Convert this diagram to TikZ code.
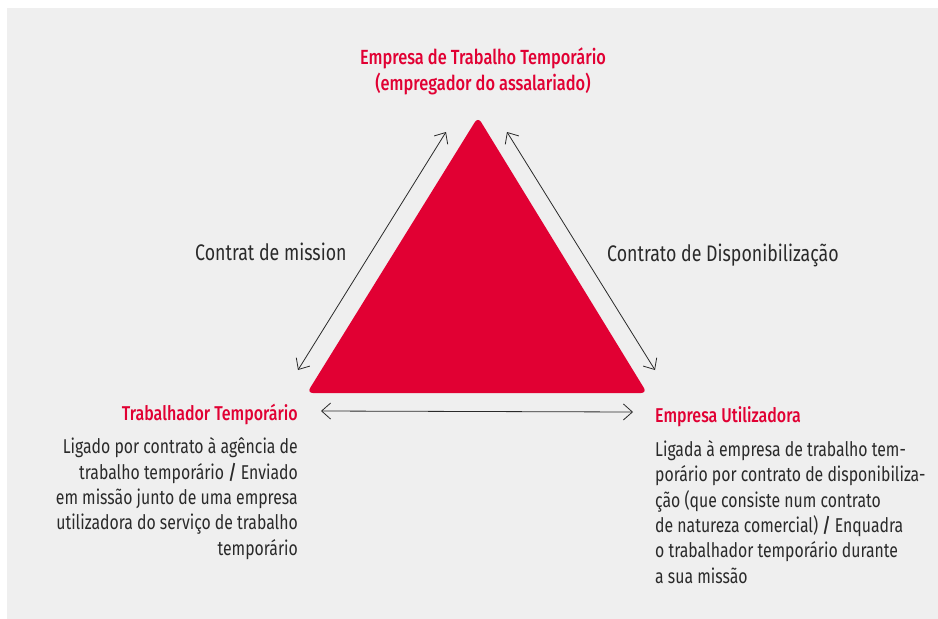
\documentclass[tikz,border=0pt]{standalone}
\usepackage{fontspec}
\setmainfont{Fira Sans}[FakeStretch=0.79, BoldFont={Fira Sans Medium}, BoldFeatures={FakeStretch=0.8}]
\usetikzlibrary{arrows.meta}
\definecolor{bgray}{HTML}{EFEFEF}
\definecolor{tred}{HTML}{E10033}
\definecolor{ink}{HTML}{2A2A2A}
\tikzset{
  link/.style={draw=ink, line width=0.8pt, {Straight Barb[length=9pt,width=16pt]}-{Straight Barb[length=9pt,width=16pt]}},
  head/.style={text=tred, font=\bfseries\fontsize{20}{25.5}\selectfont, inner sep=0pt},
  title/.style={text=tred, font=\bfseries\fontsize{20.5}{25.5}\selectfont, inner sep=0pt},
  body/.style={text=ink, font=\fontsize{20}{25.3}\selectfont, inner sep=0pt},
  clabel/.style={text=ink, font=\fontsize{22.5}{27}\selectfont, inner sep=0pt},
}
\begin{document}
\begin{tikzpicture}[x=1pt,y=-1pt]
\useasboundingbox (0,0) rectangle (938,619);
\fill[white] (0,0) rectangle (938,619);
\fill[bgray] (7,8) rectangle (938,619);
% triangle
\coordinate (A) at (478,117);
\coordinate (B) at (307,393);
\coordinate (C) at (647,393);
\fill[tred, rounded corners=6pt] (A) -- (C) -- (B) -- cycle;
% arrow ends
\coordinate (l1) at (446,132);
\coordinate (l2) at (298,370);
\coordinate (r1) at (507,132);
\coordinate (r2) at (655,370);
\coordinate (b1) at (321,411);
\coordinate (b2) at (633,412);
\draw[link] (l1) -- (l2);
\draw[link] (r1) -- (r2);
\draw[link] (b1) -- (b2);
% texts
\node[title, align=center, anchor=base] (top) at (483,90) {Empresa de Trabalho Temporário\\(empregador do assalariado)};
\node[clabel, anchor=base west] (cm) at (195,260) {Contrat de mission};
\node[clabel, anchor=base west] (cd) at (607,261) {Contrato de Disponibilização};
\node[head, anchor=base east] (tt) at (298,420) {Trabalhador Temporário};
\node[body, align=right, anchor=base east] (tb) at (298,555) {Ligado por contrato à agência de\\trabalho temporário \textbf{/} Enviado\\em missão junto de uma empresa\\utilizadora do serviço de trabalho\\temporário};
\node[head, anchor=base west] (eu) at (655,422) {Empresa Utilizadora};
\node[body, align=left, anchor=base west] (eb) at (655,583) {Ligada à empresa de trabalho tem-\\porário por contrato de disponibiliza-\\ção (que consiste num contrato\\de natureza comercial) \textbf{/} Enquadra\\o trabalhador temporário durante\\a sua missão};
\end{tikzpicture}
\end{document}
